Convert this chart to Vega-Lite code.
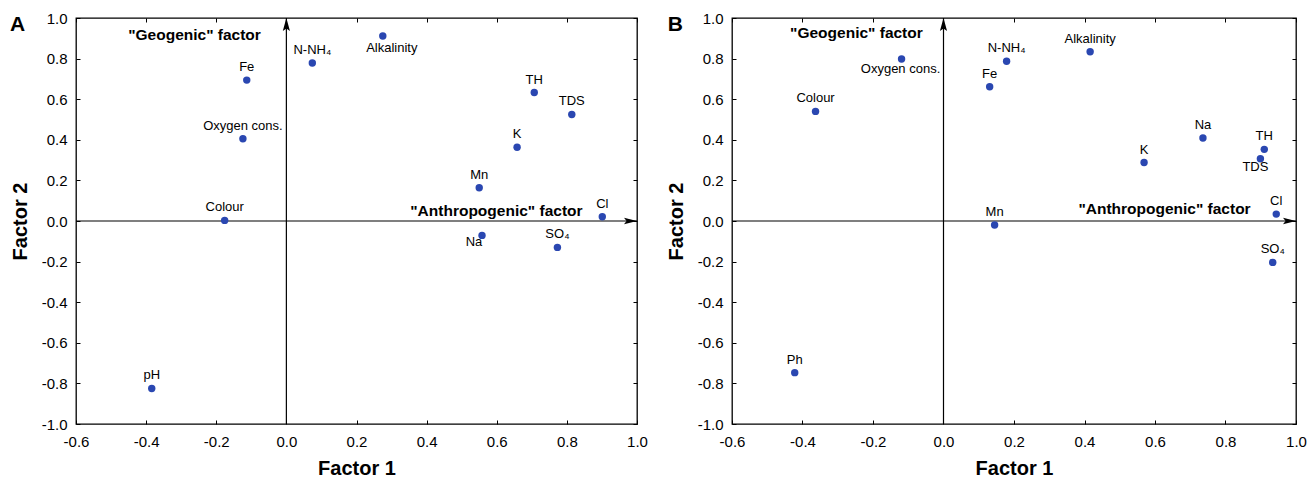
{
  "$schema": "https://vega.github.io/schema/vega-lite/v6.json",
  "padding": {"left": 9, "top": 10, "right": 4, "bottom": 0},
  "background": "white",
  "datasets": {
    "pointsA": [
      {"name": "Fe", "f1": -0.113, "f2": 0.694},
      {"name": "Oxygen cons.", "f1": -0.124, "f2": 0.405},
      {"name": "Colour", "f1": -0.176, "f2": 0.003},
      {"name": "pH", "f1": -0.384, "f2": -0.825},
      {"name": "N-NH₄", "f1": 0.074, "f2": 0.778},
      {"name": "Alkalinity", "f1": 0.275, "f2": 0.911},
      {"name": "TH", "f1": 0.707, "f2": 0.633},
      {"name": "TDS", "f1": 0.814, "f2": 0.525},
      {"name": "K", "f1": 0.658, "f2": 0.363},
      {"name": "Mn", "f1": 0.55, "f2": 0.164},
      {"name": "Cl", "f1": 0.901, "f2": 0.021},
      {"name": "Na", "f1": 0.558, "f2": -0.071},
      {"name": "SO₄", "f1": 0.773, "f2": -0.13}
    ],
    "pointsB": [
      {"name": "Oxygen cons.", "f1": -0.119, "f2": 0.798},
      {"name": "Colour", "f1": -0.363, "f2": 0.54},
      {"name": "Ph", "f1": -0.422, "f2": -0.747},
      {"name": "N-NH₄", "f1": 0.179, "f2": 0.787},
      {"name": "Fe", "f1": 0.131, "f2": 0.661},
      {"name": "Alkalinity", "f1": 0.416, "f2": 0.834},
      {"name": "Na", "f1": 0.736, "f2": 0.409},
      {"name": "K", "f1": 0.569, "f2": 0.288},
      {"name": "TH", "f1": 0.91, "f2": 0.353},
      {"name": "TDS", "f1": 0.899, "f2": 0.307},
      {"name": "Cl", "f1": 0.944, "f2": 0.034},
      {"name": "Mn", "f1": 0.145, "f2": -0.02},
      {"name": "SO₄", "f1": 0.934, "f2": -0.204}
    ],
    "notesA": [
      {"text": "\"Geogenic\" factor", "f1": -0.262, "f2": 0.914},
      {"text": "\"Anthropogenic\" factor", "f1": 0.599, "f2": 0.05}
    ],
    "notesB": [
      {"text": "\"Geogenic\" factor", "f1": -0.247, "f2": 0.926},
      {"text": "\"Anthropogenic\" factor", "f1": 0.627, "f2": 0.058}
    ],
    "letterA": [{"text": "A", "f1": -0.788, "f2": 0.965}],
    "letterB": [{"text": "B", "f1": -0.782, "f2": 0.965}],
    "vaxis": [{"f1": 0, "f2": -1, "f2b": 1}],
    "haxis": [{"f1": -0.6, "f1b": 1, "f2": 0}],
    "tipUp": [{"f1": 0, "f2": 1}],
    "tipRight": [{"f1": 1, "f2": 0}]
  },
  "hconcat": [
    {
      "width": 561,
      "height": 406,
      "resolve": {"axis": {"x": "independent", "y": "independent"}},
      "layer": [
        {
          "data": {"name": "vaxis"},
          "mark": {"type": "rule", "color": "black", "strokeWidth": 1.2},
          "encoding": {
            "x": {"field": "f1", "type": "quantitative", "scale": {"domain": [-0.6, 1], "nice": false, "zero": false},
                  "axis": {"orient": "top", "labels": false, "title": null, "values": [-0.6, -0.4, -0.2, 0, 0.2, 0.4, 0.6, 0.8, 1]}},
            "y": {"field": "f2", "type": "quantitative", "scale": {"domain": [-1, 1], "nice": false, "zero": false},
                  "axis": {"orient": "right", "labels": false, "title": null, "values": [-1, -0.8, -0.6, -0.4, -0.2, 0, 0.2, 0.4, 0.6, 0.8, 1]}},
            "y2": {"field": "f2b"}
          }
        },
        {
          "data": {"name": "haxis"},
          "mark": {"type": "rule", "color": "black", "strokeWidth": 1.2},
          "encoding": {
            "x": {"field": "f1", "type": "quantitative", "axis": null},
            "x2": {"field": "f1b"},
            "y": {"field": "f2", "type": "quantitative", "axis": null}
          }
        },
        {
          "data": {"name": "tipUp"},
          "mark": {"type": "point", "shape": "M0,0L0.55,2L0,1.6L-0.55,2Z", "size": 169, "filled": true, "color": "black", "opacity": 1},
          "encoding": {
            "x": {"field": "f1", "type": "quantitative", "axis": null},
            "y": {"field": "f2", "type": "quantitative", "axis": null}
          }
        },
        {
          "data": {"name": "tipRight"},
          "mark": {"type": "point", "shape": "M0,0L-2,0.5L-1.6,0L-2,-0.5Z", "size": 169, "filled": true, "color": "black", "opacity": 1},
          "encoding": {
            "x": {"field": "f1", "type": "quantitative", "axis": null},
            "y": {"field": "f2", "type": "quantitative", "axis": null}
          }
        },
        {
          "data": {"name": "pointsA"},
          "mark": {"type": "point", "filled": true, "size": 55, "color": "#2a47b1", "opacity": 1},
          "encoding": {
            "x": {"field": "f1", "type": "quantitative",
                  "axis": {"orient": "bottom", "title": "Factor 1", "values": [-0.6, -0.4, -0.2, 0, 0.2, 0.4, 0.6, 0.8, 1], "format": ".1f"}},
            "y": {"field": "f2", "type": "quantitative",
                  "axis": {"orient": "left", "title": "Factor 2", "values": [-1, -0.8, -0.6, -0.4, -0.2, 0, 0.2, 0.4, 0.6, 0.8, 1], "format": ".1f"}}
          }
        },
        {
          "data": {"name": "pointsA"},
          "transform": [{"filter": {"not": {"field": "name", "oneOf": ["Alkalinity", "Na"]}}}],
          "mark": {"type": "text", "fontSize": 13, "font": "Liberation Sans", "color": "black", "baseline": "middle", "align": "center", "dy": -13},
          "encoding": {
            "x": {"field": "f1", "type": "quantitative", "axis": null},
            "y": {"field": "f2", "type": "quantitative", "axis": null},
            "text": {"field": "name"}
          }
        },
        {
          "data": {"name": "pointsA"},
          "transform": [{"filter": {"field": "name", "equal": "Alkalinity"}}],
          "mark": {"type": "text", "fontSize": 13, "font": "Liberation Sans", "color": "black", "baseline": "middle", "align": "center", "dy": 12, "dx": 9},
          "encoding": {
            "x": {"field": "f1", "type": "quantitative", "axis": null},
            "y": {"field": "f2", "type": "quantitative", "axis": null},
            "text": {"field": "name"}
          }
        },
        {
          "data": {"name": "pointsA"},
          "transform": [{"filter": {"field": "name", "equal": "Na"}}],
          "mark": {"type": "text", "fontSize": 13, "font": "Liberation Sans", "color": "black", "baseline": "middle", "align": "center", "dy": 7, "dx": -8},
          "encoding": {
            "x": {"field": "f1", "type": "quantitative", "axis": null},
            "y": {"field": "f2", "type": "quantitative", "axis": null},
            "text": {"field": "name"}
          }
        },
        {
          "data": {"name": "notesA"},
          "mark": {"type": "text", "fontSize": 15.5, "fontWeight": "bold", "font": "Liberation Sans", "color": "black", "baseline": "middle", "align": "center"},
          "encoding": {
            "x": {"field": "f1", "type": "quantitative", "axis": null},
            "y": {"field": "f2", "type": "quantitative", "axis": null},
            "text": {"field": "text"}
          }
        },
        {
          "data": {"name": "letterA"},
          "mark": {"type": "text", "fontSize": 21, "fontWeight": "bold", "font": "Liberation Sans", "color": "black", "baseline": "middle", "align": "left"},
          "encoding": {
            "x": {"field": "f1", "type": "quantitative", "axis": null},
            "y": {"field": "f2", "type": "quantitative", "axis": null},
            "text": {"field": "text"}
          }
        }
      ]
    },
    {
      "width": 564,
      "height": 406,
      "resolve": {"axis": {"x": "independent", "y": "independent"}},
      "layer": [
        {
          "data": {"name": "vaxis"},
          "mark": {"type": "rule", "color": "black", "strokeWidth": 1.2},
          "encoding": {
            "x": {"field": "f1", "type": "quantitative", "scale": {"domain": [-0.6, 1], "nice": false, "zero": false},
                  "axis": {"orient": "top", "labels": false, "title": null, "values": [-0.6, -0.4, -0.2, 0, 0.2, 0.4, 0.6, 0.8, 1]}},
            "y": {"field": "f2", "type": "quantitative", "scale": {"domain": [-1, 1], "nice": false, "zero": false},
                  "axis": {"orient": "right", "labels": false, "title": null, "values": [-1, -0.8, -0.6, -0.4, -0.2, 0, 0.2, 0.4, 0.6, 0.8, 1]}},
            "y2": {"field": "f2b"}
          }
        },
        {
          "data": {"name": "haxis"},
          "mark": {"type": "rule", "color": "black", "strokeWidth": 1.2},
          "encoding": {
            "x": {"field": "f1", "type": "quantitative", "axis": null},
            "x2": {"field": "f1b"},
            "y": {"field": "f2", "type": "quantitative", "axis": null}
          }
        },
        {
          "data": {"name": "tipUp"},
          "mark": {"type": "point", "shape": "M0,0L0.55,2L0,1.6L-0.55,2Z", "size": 169, "filled": true, "color": "black", "opacity": 1},
          "encoding": {
            "x": {"field": "f1", "type": "quantitative", "axis": null},
            "y": {"field": "f2", "type": "quantitative", "axis": null}
          }
        },
        {
          "data": {"name": "tipRight"},
          "mark": {"type": "point", "shape": "M0,0L-2,0.5L-1.6,0L-2,-0.5Z", "size": 169, "filled": true, "color": "black", "opacity": 1},
          "encoding": {
            "x": {"field": "f1", "type": "quantitative", "axis": null},
            "y": {"field": "f2", "type": "quantitative", "axis": null}
          }
        },
        {
          "data": {"name": "pointsB"},
          "mark": {"type": "point", "filled": true, "size": 55, "color": "#2a47b1", "opacity": 1},
          "encoding": {
            "x": {"field": "f1", "type": "quantitative",
                  "axis": {"orient": "bottom", "title": "Factor 1", "values": [-0.6, -0.4, -0.2, 0, 0.2, 0.4, 0.6, 0.8, 1], "format": ".1f"}},
            "y": {"field": "f2", "type": "quantitative",
                  "axis": {"orient": "left", "title": "Factor 2", "values": [-1, -0.8, -0.6, -0.4, -0.2, 0, 0.2, 0.4, 0.6, 0.8, 1], "format": ".1f"}}
          }
        },
        {
          "data": {"name": "pointsB"},
          "transform": [{"filter": {"not": {"field": "name", "oneOf": ["Oxygen cons.", "TDS"]}}}],
          "mark": {"type": "text", "fontSize": 13, "font": "Liberation Sans", "color": "black", "baseline": "middle", "align": "center", "dy": -13},
          "encoding": {
            "x": {"field": "f1", "type": "quantitative", "axis": null},
            "y": {"field": "f2", "type": "quantitative", "axis": null},
            "text": {"field": "name"}
          }
        },
        {
          "data": {"name": "pointsB"},
          "transform": [{"filter": {"field": "name", "equal": "Oxygen cons."}}],
          "mark": {"type": "text", "fontSize": 13, "font": "Liberation Sans", "color": "black", "baseline": "middle", "align": "center", "dy": 10, "dx": -1},
          "encoding": {
            "x": {"field": "f1", "type": "quantitative", "axis": null},
            "y": {"field": "f2", "type": "quantitative", "axis": null},
            "text": {"field": "name"}
          }
        },
        {
          "data": {"name": "pointsB"},
          "transform": [{"filter": {"field": "name", "equal": "TDS"}}],
          "mark": {"type": "text", "fontSize": 13, "font": "Liberation Sans", "color": "black", "baseline": "middle", "align": "center", "dy": 8, "dx": -5},
          "encoding": {
            "x": {"field": "f1", "type": "quantitative", "axis": null},
            "y": {"field": "f2", "type": "quantitative", "axis": null},
            "text": {"field": "name"}
          }
        },
        {
          "data": {"name": "notesB"},
          "mark": {"type": "text", "fontSize": 15.5, "fontWeight": "bold", "font": "Liberation Sans", "color": "black", "baseline": "middle", "align": "center"},
          "encoding": {
            "x": {"field": "f1", "type": "quantitative", "axis": null},
            "y": {"field": "f2", "type": "quantitative", "axis": null},
            "text": {"field": "text"}
          }
        },
        {
          "data": {"name": "letterB"},
          "mark": {"type": "text", "fontSize": 21, "fontWeight": "bold", "font": "Liberation Sans", "color": "black", "baseline": "middle", "align": "left"},
          "encoding": {
            "x": {"field": "f1", "type": "quantitative", "axis": null},
            "y": {"field": "f2", "type": "quantitative", "axis": null},
            "text": {"field": "text"}
          }
        }
      ]
    }
  ],
  "spacing": 16,
  "config": {
    "locale": {"number": {"decimal": ".", "thousands": ",", "grouping": [3], "currency": ["$", ""], "minus": "-"}},
    "view": {"stroke": "black", "strokeWidth": 1.3},
    "axis": {
      "domain": false,
      "grid": false,
      "ticks": true,
      "tickSize": -4,
      "tickColor": "black",
      "tickWidth": 1,
      "labelFont": "Liberation Sans",
      "labelFontSize": 15,
      "labelColor": "black",
      "labelFlush": false,
      "labelOverlap": false,
      "titleFont": "Liberation Sans",
      "titleFontSize": 20,
      "titleFontWeight": "bold",
      "titleColor": "black"
    },
    "axisBottom": {"labelPadding": 14, "titlePadding": 9},
    "axisLeft": {"labelPadding": 13, "titlePadding": 11}
  }
}
